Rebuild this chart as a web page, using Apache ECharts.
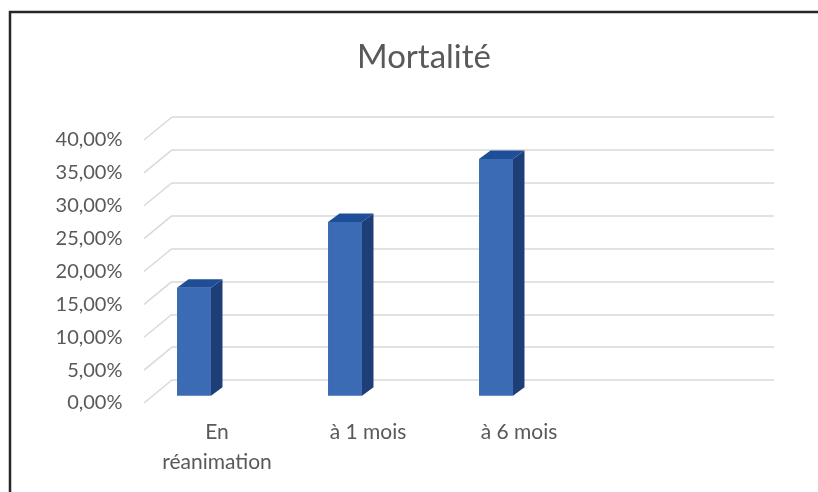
<!DOCTYPE html>
<html lang="fr">
<head>
  <meta charset="UTF-8">
  <title>Mortalité</title>
  <script src="https://cdn.jsdelivr.net/npm/echarts@6.0.0/dist/echarts.min.js"></script>
  <style>
    html, body {
      margin: 0;
      padding: 0;
      background: #fff;
    }

    #main {
      width: 818px;
      height: 492px;
    }
  </style>
</head>
<body>
  <div id="main"></div>

  <script type="text/javascript">
    // données
    var categories = ['En\nréanimation', 'à 1 mois', 'à 6 mois', ''];
    var mortalite = [16.4, 26.4, 36.0];
    var yTicks = [0, 5, 10, 15, 20, 25, 30, 35, 40];

    var textColor = '#595959';
    var gridColor = '#d9d9d9';
    var fontFamily = 'Lato, "Open Sans", sans-serif';

    // profondeur de la vue 3D (décalage face avant / mur du fond)
    var depthX = 28, depthY = 23;
    var sideX = 11.5, sideY = 8.5;

    var myChart = echarts.init(document.getElementById('main'));

    function fmtPct(v) {
      return v.toFixed(2).replace('.', ',') + '%';
    }

    var option = {
      backgroundColor: '#fff',
      animation: false,
      title: {
        text: 'Mortalité',
        left: 352,
        top: 36,
        textStyle: {
          color: textColor,
          fontFamily: fontFamily,
          fontWeight: 'normal',
          fontSize: 33
        }
      },
      graphic: [{
        type: 'rect',
        shape: { x: 10, y: 12, width: 830, height: 500 },
        style: { fill: 'none', stroke: '#262626', lineWidth: 2.5 },
        silent: true
      }],
      grid: [
        // mur du fond
        { left: 172, right: 44, top: 117, bottom: 112 },
        // plan avant (étiquettes)
        { left: 141.5, right: 72.5, top: 140, bottom: 89 },
        // barres
        { left: 118.5, right: 95.5, top: 132.7, bottom: 96.3 }
      ],
      xAxis: [
        { gridIndex: 0, type: 'category', data: categories, show: false },
        {
          gridIndex: 1, type: 'category', data: categories,
          axisLine: { show: false }, axisTick: { show: false },
          axisLabel: {
            color: textColor, fontFamily: fontFamily, fontSize: 21,
            lineHeight: 30, margin: 14, interval: 0
          }
        },
        { gridIndex: 2, type: 'category', data: categories, show: false }
      ],
      yAxis: [
        {
          gridIndex: 0, type: 'value', min: 0, max: 40, interval: 5,
          axisLine: { show: false }, axisTick: { show: false },
          axisLabel: { show: false },
          splitLine: { lineStyle: { color: gridColor, width: 1.5 } }
        },
        {
          gridIndex: 1, type: 'value', min: 0, max: 40, interval: 5,
          axisLine: { show: false }, axisTick: { show: false },
          splitLine: { show: false },
          axisLabel: {
            color: textColor, fontFamily: fontFamily, fontSize: 20,
            margin: 19, formatter: fmtPct
          }
        },
        { gridIndex: 2, type: 'value', min: 0, max: 40, show: false, splitLine: { show: false } }
      ],
      series: [
        {
          // lignes obliques du mur latéral
          type: 'custom',
          xAxisIndex: 0,
          yAxisIndex: 0,
          silent: true,
          data: yTicks.map(function (v) { return [0, v]; }),
          renderItem: function (params, api) {
            var x0 = params.coordSys.x;
            var y = api.coord([0, api.value(1)])[1];
            return {
              type: 'line',
              shape: { x1: x0 - depthX, y1: y + depthY, x2: x0, y2: y },
              style: { stroke: gridColor, lineWidth: 1.5 }
            };
          }
        },
        {
          name: 'Mortalité',
          type: 'custom',
          xAxisIndex: 2,
          yAxisIndex: 2,
          data: mortalite.map(function (v, i) { return [i, v]; }),
          renderItem: function (params, api) {
            var top = api.coord([api.value(0), api.value(1)]);
            var base = api.coord([api.value(0), 0]);
            var w = api.size([1, 0])[0] * 0.225;
            var x1 = top[0] - w / 2, x2 = top[0] + w / 2;
            return {
              type: 'group',
              children: [
                {
                  type: 'rect',
                  shape: { x: x1, y: top[1], width: w, height: base[1] - top[1] },
                  style: { fill: '#3c6bb5' }
                },
                {
                  type: 'polygon',
                  shape: { points: [[x2, top[1]], [x2 + sideX, top[1] - sideY], [x2 + sideX, base[1] - sideY], [x2, base[1]]] },
                  style: { fill: '#1e3e78' }
                },
                {
                  type: 'polygon',
                  shape: { points: [[x1, top[1]], [x1 + sideX, top[1] - sideY], [x2 + sideX, top[1] - sideY], [x2, top[1]]] },
                  style: { fill: '#1f4e98' }
                }
              ]
            };
          }
        }
      ]
    };

    myChart.setOption(option);
  </script>
</body>
</html>
